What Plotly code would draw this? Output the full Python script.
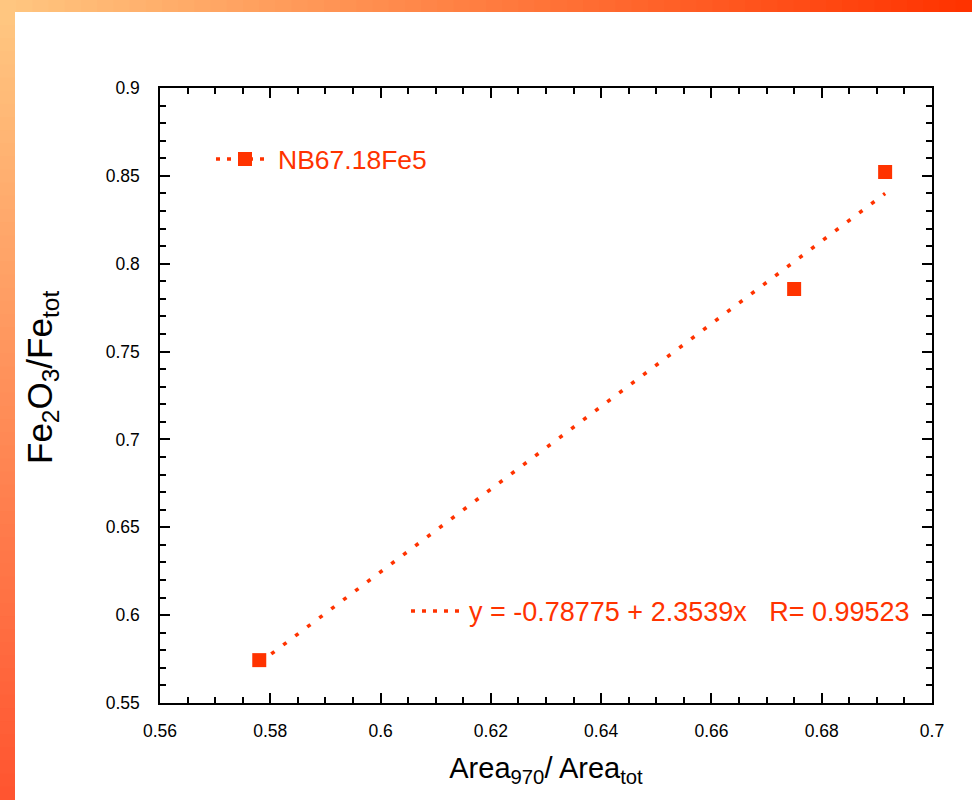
import plotly.graph_objects as go

# Data
area_ratio = [0.578, 0.675, 0.6915]
fe_ratio = [0.5744, 0.7856, 0.8522]
sample_name = "NB67.18Fe5"
fit_intercept = -0.78775
fit_slope = 2.3539
fit_r = 0.99523
x_ticks = [0.56, 0.58, 0.6, 0.62, 0.64, 0.66, 0.68, 0.7]
x_tick_labels = ["0.56", "0.58", "0.6", "0.62", "0.64", "0.66", "0.68", "0.7"]
y_ticks = [0.55, 0.6, 0.65, 0.7, 0.75, 0.8, 0.85, 0.9]
y_tick_labels = ["0.55", "0.6", "0.65", "0.7", "0.75", "0.8", "0.85", "0.9"]

RED = "#FF3300"
FONT = "Liberation Sans, Arial, sans-serif"
DOTS = "4px,11px"

W, H = 972, 800
L, R, T, B = 160, 40, 88, 97
pw, ph = W - L - R, H - T - B


def px(v):
    return (v - L) / pw


def py(v):
    return 1 - (v - T) / ph


fit_x = [min(area_ratio), max(area_ratio)]
fit_y = [fit_intercept + fit_slope * v for v in fit_x]

fig = go.Figure()
fig.add_trace(go.Scatter(x=fit_x, y=fit_y, mode="lines",
                         line=dict(color=RED, width=3.5, dash=DOTS),
                         showlegend=False, hoverinfo="skip"))
fig.add_trace(go.Scatter(x=area_ratio, y=fe_ratio, mode="markers", name=sample_name,
                         marker=dict(symbol="square", size=14, color=RED, line_width=0),
                         showlegend=False, hoverinfo="x+y"))


# gradient frame (slide background)
def lerp(c1, c2, t):
    return "rgb(%d,%d,%d)" % tuple(round(a + (b - a) * t) for a, b in zip(c1, c2))


c_start = (255, 198, 128)
c_top_end = (255, 51, 0)
c_left_end = (255, 85, 48)
shapes = []
n = 60
for i in range(n):
    x0 = px(W * i / n)
    x1 = px(W * (i + 1) / n)
    shapes.append(dict(type="rect", xref="paper", yref="paper",
                       x0=x0, x1=x1 + 0.002, y0=py(12), y1=py(0),
                       fillcolor=lerp(c_start, c_top_end, i / (n - 1)), line_width=0, layer="below"))
for i in range(n):
    y_top = 12 + (H - 12) * i / n
    y_bot = 12 + (H - 12) * (i + 1) / n
    shapes.append(dict(type="rect", xref="paper", yref="paper",
                       x0=px(0), x1=px(15), y0=py(y_bot) - 0.002, y1=py(y_top),
                       fillcolor=lerp(c_start, c_left_end, i / (n - 1)), line_width=0, layer="below"))

# legend key symbols
shapes.append(dict(type="line", xref="paper", yref="paper", x0=px(216), x1=px(270), y0=py(159), y1=py(159),
                   line=dict(color=RED, width=3.5, dash="4px,7px")))
shapes.append(dict(type="rect", xref="paper", yref="paper", x0=px(238), x1=px(252), y0=py(166), y1=py(152),
                   fillcolor=RED, line_width=0))
shapes.append(dict(type="line", xref="paper", yref="paper", x0=px(411), x1=px(466), y0=py(611), y1=py(611),
                   line=dict(color=RED, width=3.5, dash="4px,7px")))

annotations = [
    dict(text="Fe<sub>2</sub>O<sub>3</sub>/Fe<sub>tot</sub>", textangle=-90,
         xref="paper", yref="paper", x=px(42), y=py(378),
         xanchor="center", yanchor="middle", showarrow=False,
         font=dict(family=FONT, size=35, color="black")),
    dict(text=sample_name, xref="paper", yref="paper", x=px(276), y=py(160),
         xanchor="left", yanchor="middle", showarrow=False,
         font=dict(family=FONT, size=26.5, color=RED)),
    dict(text=f"y = {fit_intercept} + {fit_slope}x   R= {fit_r}", xref="paper", yref="paper",
         x=px(467), y=py(612), xanchor="left", yanchor="middle", showarrow=False,
         font=dict(family=FONT, size=27, color=RED)),
]

axis_common = dict(showgrid=False, zeroline=False, showline=True, linecolor="black",
                   linewidth=1.5, mirror="allticks", ticks="inside", ticklen=10,
                   tickcolor="black", tickwidth=1.5,
                   tickfont=dict(family=FONT, size=17.5, color="black"))

fig.update_layout(
    width=W, height=H,
    margin=dict(l=L, r=R, t=T, b=B),
    paper_bgcolor="white", plot_bgcolor="white",
    shapes=shapes,
    annotations=annotations,
    showlegend=False,
    xaxis=dict(axis_common, range=[0.56, 0.7], tickvals=x_ticks, ticktext=x_tick_labels,
               ticklabelstandoff=11,
               minor=dict(dtick=0.005, ticks="inside", ticklen=6, tickcolor="black", tickwidth=1.5),
               title=dict(text="Area<sub>970</sub>/ Area<sub>tot</sub>",
                          font=dict(family=FONT, size=29, color="black"), standoff=18)),
    yaxis=dict(axis_common, range=[0.55, 0.9], tickvals=y_ticks, ticktext=y_tick_labels,
               ticklabelstandoff=15,
               minor=dict(dtick=0.01, ticks="inside", ticklen=6, tickcolor="black", tickwidth=1.5)),
)

fig.write_html("out.html")
